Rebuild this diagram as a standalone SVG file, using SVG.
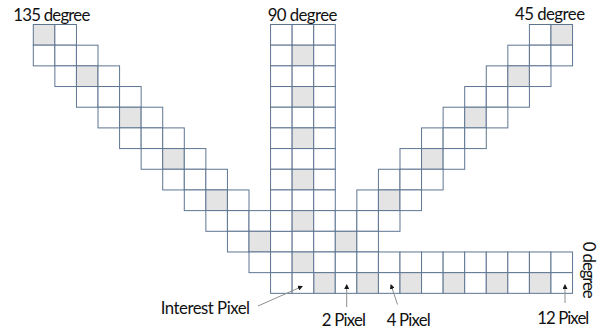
<svg xmlns="http://www.w3.org/2000/svg" xmlns:xlink="http://www.w3.org/1999/xlink" width="602" height="329" viewBox="0 0 602 329">
<style>
.cell{fill:#ffffff;stroke:#5e7592;stroke-width:1}
.sh{fill:#e4e4e4;stroke:#5e7592;stroke-width:1}
.lbl{font-family:Lato,"Liberation Sans",sans-serif;font-size:16.8px;fill:#111111}
.arr{stroke:#8e8e8e;stroke-width:1;fill:none;marker-end:url(#ah)}
</style>
<defs>
<rect id="c" width="21.57" height="20.68"/>
<marker id="ah" markerUnits="userSpaceOnUse" markerWidth="5" markerHeight="5" refX="4" refY="2.5" orient="auto">
<path d="M0,0 L5,2.5 L0,5 Z" fill="#1a1a1a"/>
</marker>
</defs>
<rect width="602" height="329" fill="#ffffff"/>

<g id="dir-135">
<use href="#c" class="sh" x="33.3" y="24.5"/><use href="#c" class="cell" x="54.87" y="24.5"/>
<use href="#c" class="cell" x="33.3" y="45.18"/><use href="#c" class="cell" x="54.87" y="45.18"/><use href="#c" class="cell" x="76.44" y="45.18"/>
<use href="#c" class="cell" x="54.87" y="65.86"/><use href="#c" class="sh" x="76.44" y="65.86"/><use href="#c" class="cell" x="98.01" y="65.86"/>
<use href="#c" class="cell" x="76.44" y="86.54"/><use href="#c" class="cell" x="98.01" y="86.54"/><use href="#c" class="cell" x="119.58" y="86.54"/>
<use href="#c" class="cell" x="98.01" y="107.22"/><use href="#c" class="sh" x="119.58" y="107.22"/><use href="#c" class="cell" x="141.15" y="107.22"/>
<use href="#c" class="cell" x="119.58" y="127.9"/><use href="#c" class="cell" x="141.15" y="127.9"/><use href="#c" class="cell" x="162.72" y="127.9"/>
<use href="#c" class="cell" x="141.15" y="148.58"/><use href="#c" class="sh" x="162.72" y="148.58"/><use href="#c" class="cell" x="184.29" y="148.58"/>
<use href="#c" class="cell" x="162.72" y="169.26"/><use href="#c" class="cell" x="184.29" y="169.26"/><use href="#c" class="cell" x="205.86" y="169.26"/>
<use href="#c" class="cell" x="184.29" y="189.94"/><use href="#c" class="sh" x="205.86" y="189.94"/><use href="#c" class="cell" x="227.43" y="189.94"/>
<use href="#c" class="cell" x="205.86" y="210.62"/><use href="#c" class="cell" x="227.43" y="210.62"/><use href="#c" class="cell" x="249" y="210.62"/>
<use href="#c" class="cell" x="227.43" y="231.3"/><use href="#c" class="sh" x="249" y="231.3"/><use href="#c" class="cell" x="270.57" y="231.3"/>
<use href="#c" class="cell" x="249" y="251.98"/><use href="#c" class="cell" x="270.57" y="251.98"/>
<use href="#c" class="cell" x="270.57" y="272.66"/>
</g>

<g id="dir-90">
<use href="#c" class="cell" x="270.57" y="24.5"/><use href="#c" class="cell" x="292.14" y="24.5"/><use href="#c" class="cell" x="313.71" y="24.5"/>
<use href="#c" class="cell" x="270.57" y="45.18"/><use href="#c" class="sh" x="292.14" y="45.18"/><use href="#c" class="cell" x="313.71" y="45.18"/>
<use href="#c" class="cell" x="270.57" y="65.86"/><use href="#c" class="cell" x="292.14" y="65.86"/><use href="#c" class="cell" x="313.71" y="65.86"/>
<use href="#c" class="cell" x="270.57" y="86.54"/><use href="#c" class="sh" x="292.14" y="86.54"/><use href="#c" class="cell" x="313.71" y="86.54"/>
<use href="#c" class="cell" x="270.57" y="107.22"/><use href="#c" class="cell" x="292.14" y="107.22"/><use href="#c" class="cell" x="313.71" y="107.22"/>
<use href="#c" class="cell" x="270.57" y="127.9"/><use href="#c" class="sh" x="292.14" y="127.9"/><use href="#c" class="cell" x="313.71" y="127.9"/>
<use href="#c" class="cell" x="270.57" y="148.58"/><use href="#c" class="cell" x="292.14" y="148.58"/><use href="#c" class="cell" x="313.71" y="148.58"/>
<use href="#c" class="cell" x="270.57" y="169.26"/><use href="#c" class="sh" x="292.14" y="169.26"/><use href="#c" class="cell" x="313.71" y="169.26"/>
<use href="#c" class="cell" x="270.57" y="189.94"/><use href="#c" class="cell" x="292.14" y="189.94"/><use href="#c" class="cell" x="313.71" y="189.94"/>
<use href="#c" class="cell" x="270.57" y="210.62"/><use href="#c" class="sh" x="292.14" y="210.62"/><use href="#c" class="cell" x="313.71" y="210.62"/>
<use href="#c" class="cell" x="292.14" y="231.3"/><use href="#c" class="cell" x="313.71" y="231.3"/>
<use href="#c" class="sh" x="292.14" y="251.98"/><use href="#c" class="cell" x="313.71" y="251.98"/>
</g>

<g id="dir-45">
<use href="#c" class="cell" x="529.41" y="24.5"/><use href="#c" class="sh" x="550.98" y="24.5"/>
<use href="#c" class="cell" x="507.84" y="45.18"/><use href="#c" class="cell" x="529.41" y="45.18"/><use href="#c" class="cell" x="550.98" y="45.18"/>
<use href="#c" class="cell" x="486.27" y="65.86"/><use href="#c" class="sh" x="507.84" y="65.86"/><use href="#c" class="cell" x="529.41" y="65.86"/>
<use href="#c" class="cell" x="464.7" y="86.54"/><use href="#c" class="cell" x="486.27" y="86.54"/><use href="#c" class="cell" x="507.84" y="86.54"/>
<use href="#c" class="cell" x="443.13" y="107.22"/><use href="#c" class="sh" x="464.7" y="107.22"/><use href="#c" class="cell" x="486.27" y="107.22"/>
<use href="#c" class="cell" x="421.56" y="127.9"/><use href="#c" class="cell" x="443.13" y="127.9"/><use href="#c" class="cell" x="464.7" y="127.9"/>
<use href="#c" class="cell" x="399.99" y="148.58"/><use href="#c" class="sh" x="421.56" y="148.58"/><use href="#c" class="cell" x="443.13" y="148.58"/>
<use href="#c" class="cell" x="378.42" y="169.26"/><use href="#c" class="cell" x="399.99" y="169.26"/><use href="#c" class="cell" x="421.56" y="169.26"/>
<use href="#c" class="cell" x="356.85" y="189.94"/><use href="#c" class="sh" x="378.42" y="189.94"/><use href="#c" class="cell" x="399.99" y="189.94"/>
<use href="#c" class="cell" x="335.28" y="210.62"/><use href="#c" class="cell" x="356.85" y="210.62"/><use href="#c" class="cell" x="378.42" y="210.62"/>
<use href="#c" class="sh" x="335.28" y="231.3"/><use href="#c" class="cell" x="356.85" y="231.3"/>
</g>

<g id="dir-0">
<use href="#c" class="cell" x="335.28" y="251.98"/><use href="#c" class="cell" x="356.85" y="251.98"/><use href="#c" class="cell" x="378.42" y="251.98"/><use href="#c" class="cell" x="399.99" y="251.98"/><use href="#c" class="cell" x="421.56" y="251.98"/><use href="#c" class="cell" x="443.13" y="251.98"/><use href="#c" class="cell" x="464.7" y="251.98"/><use href="#c" class="cell" x="486.27" y="251.98"/><use href="#c" class="cell" x="507.84" y="251.98"/><use href="#c" class="cell" x="529.41" y="251.98"/><use href="#c" class="cell" x="550.98" y="251.98"/>
<use href="#c" class="sh" x="313.71" y="272.66"/><use href="#c" class="cell" x="335.28" y="272.66"/><use href="#c" class="sh" x="356.85" y="272.66"/><use href="#c" class="cell" x="378.42" y="272.66"/><use href="#c" class="sh" x="399.99" y="272.66"/><use href="#c" class="cell" x="421.56" y="272.66"/><use href="#c" class="sh" x="443.13" y="272.66"/><use href="#c" class="cell" x="464.7" y="272.66"/><use href="#c" class="sh" x="486.27" y="272.66"/><use href="#c" class="cell" x="507.84" y="272.66"/><use href="#c" class="sh" x="529.41" y="272.66"/><use href="#c" class="cell" x="550.98" y="272.66"/>
</g>

<g id="interest-pixel">
<use href="#c" class="cell" x="292.14" y="272.66"/>
</g>

<g id="connectors">
<line class="arr" x1="258" y1="306" x2="302" y2="286.5"/>
<line class="arr" x1="346.7" y1="307" x2="346.7" y2="285"/>
<line class="arr" x1="397.5" y1="304.5" x2="391" y2="285"/>
<line class="arr" x1="565" y1="303" x2="565" y2="285"/>
</g>

<g id="labels">
<text class="lbl" x="13.3" y="20.5" textLength="77">135 degree</text>
<text class="lbl" x="267.7" y="20.7" textLength="69.6">90 degree</text>
<text class="lbl" x="515" y="20.3" textLength="70">45 degree</text>
<text class="lbl" x="160.7" y="314" textLength="89.3">Interest Pixel</text>
<text class="lbl" x="321.7" y="325.5" textLength="44.3">2 Pixel</text>
<text class="lbl" x="386.7" y="325.5" textLength="44">4 Pixel</text>
<text class="lbl" x="537.3" y="323.5" textLength="52">12 Pixel</text>
<text class="lbl" transform="translate(583,241.7) rotate(90)" x="0" y="0" textLength="57">0 degree</text>
</g>
</svg>
